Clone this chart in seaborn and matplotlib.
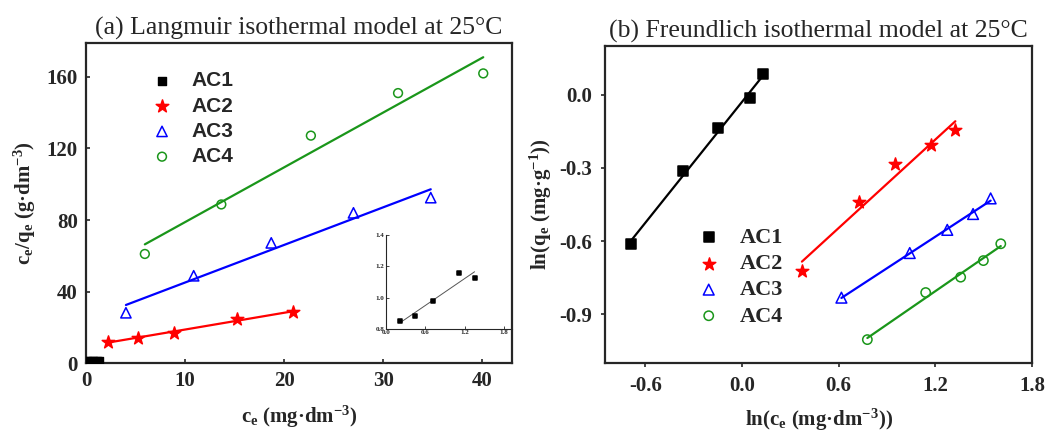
import numpy as np
import matplotlib
matplotlib.use("Agg")
import matplotlib.pyplot as plt
import seaborn as sns

# Données
series = ["AC1", "AC2", "AC3", "AC4"]
colors = ["black", "#ff0000", "#0000ff", "#1a961a"]
markers = ["s", "*", "^", "o"]

# (a) Langmuir : c_e et c_e/q_e
lang_ce = {
    "AC1": [0.22, 0.44, 0.72, 1.11, 1.35],
    "AC2": [2.25, 5.2, 8.9, 15.2, 20.9],
    "AC3": [4.03, 10.87, 18.7, 27.0, 34.8],
    "AC4": [5.94, 13.66, 22.7, 31.5, 40.1],
}
lang_ratio = {
    "AC1": [0.85, 0.882, 0.979, 1.158, 1.124],
    "AC2": [11.8, 14.1, 16.9, 24.4, 28.7],
    "AC3": [28.1, 48.8, 67.2, 84.0, 92.5],
    "AC4": [61.0, 88.7, 127.2, 151.0, 162.0],
}

# (b) Freundlich : ln(c_e) et ln(q_e)
fr_lnce = {
    "AC1": [-0.687, -0.366, -0.149, 0.048, 0.132],
    "AC2": [0.372, 0.726, 0.952, 1.175, 1.324],
    "AC3": [0.617, 1.041, 1.274, 1.434, 1.543],
    "AC4": [0.778, 1.140, 1.357, 1.498, 1.606],
}
fr_lnqe = {
    "AC1": [-0.612, -0.312, -0.136, -0.015, 0.084],
    "AC2": [-0.723, -0.438, -0.282, -0.208, -0.144],
    "AC3": [-0.832, -0.649, -0.554, -0.489, -0.425],
    "AC4": [-1.004, -0.811, -0.748, -0.680, -0.611],
}

sns.set_style("ticks")
plt.rcParams["font.family"] = ["Liberation Serif", "DejaVu Serif"]
plt.rcParams["mathtext.fontset"] = "custom"
plt.rcParams["mathtext.rm"] = "Liberation Serif:bold"
plt.rcParams["mathtext.it"] = "Liberation Serif:bold"
plt.rcParams["mathtext.bf"] = "Liberation Serif:bold"
plt.rcParams["axes.linewidth"] = 1.6

fig = plt.figure(figsize=(10.5, 4.32), dpi=100)
ax1 = fig.add_axes([0.0819, 0.1597, 0.4057, 0.7407])
ax2 = fig.add_axes([0.5762, 0.1597, 0.4067, 0.7338])
axin = fig.add_axes([0.3676, 0.2384, 0.12, 0.2176])


def draw(ax, xs, ys, name, color, marker, ms, lw=1.6, label=True):
    hollow = marker in ("^", "o")
    sns.regplot(x=np.array(xs), y=np.array(ys), ax=ax, ci=None, truncate=True,
                marker=marker, color=color,
                scatter_kws={"s": ms, "facecolors": "none" if hollow else color,
                             "edgecolors": color, "linewidths": 1.1, "alpha": 1,
                             "zorder": 3},
                line_kws={"lw": lw, "zorder": 2},
                label=name if label else None)


# ### (a) Langmuir ###
sizes = {"AC1": 40, "AC2": 90, "AC3": 55, "AC4": 40}
for name, c, m in zip(series, colors, markers):
    if name == "AC1":
        # AC1 écrasé près de zéro sur l'échelle principale
        ax1.scatter(lang_ce[name], lang_ratio[name], marker=m, s=40, color=c,
                    label=name, zorder=3)
    else:
        draw(ax1, lang_ce[name], lang_ratio[name], name, c, m, sizes[name])

ax1.set_xlim(0, 43)
ax1.set_ylim(0, 179)
ax1.set_xticks([0, 10, 20, 30, 40])
ax1.set_yticks([0, 40, 80, 120, 160])
ax1.set_title("(a) Langmuir isothermal model at 25°C", fontsize=18.5, pad=6)
ax1.set_xlabel(r"c$_e$ (mg·dm$^{-3}$)", fontsize=15, fontweight="bold", labelpad=9)
ax1.set_ylabel(r"c$_e$/q$_e$ (g·dm$^{-3}$)", fontsize=15, fontweight="bold", labelpad=6)
ax1.tick_params(direction="in", length=3, width=1.2, labelsize=15, pad=6)
for lab in ax1.get_xticklabels() + ax1.get_yticklabels():
    lab.set_fontweight("bold")
leg1 = ax1.legend(loc="upper left", bbox_to_anchor=(0.11, 0.97), frameon=False,
                  prop={"family": "Liberation Sans", "weight": "bold", "size": 15},
                  handlelength=1.0, handletextpad=0.9, labelspacing=0.3)

# encart AC1
draw(axin, lang_ce["AC1"], lang_ratio["AC1"], "AC1", "black", "s", 12, lw=0.7, label=False)
axin.lines[-1].set_color("#555555")
axin.set_xlim(0, 1.92)
axin.set_ylim(0.8, 1.4)
axin.set_xticks([0.0, 0.6, 1.2, 1.8])
axin.set_yticks([0.8, 1.0, 1.2, 1.4])
axin.set_xticklabels(["0.0", "0.6", "1.2", "1.8"])
axin.set_yticklabels(["0.8", "1.0", "1.2", "1.4"])
axin.tick_params(direction="in", length=2, width=0.6, labelsize=5, pad=1)
for lab in axin.get_xticklabels() + axin.get_yticklabels():
    lab.set_fontweight("bold")
axin.patch.set_alpha(0)
for s in ["top", "right"]:
    axin.spines[s].set_visible(False)
for s in ["left", "bottom"]:
    axin.spines[s].set_linewidth(0.8)

# ### (b) Freundlich ###
sizes2 = {"AC1": 55, "AC2": 90, "AC3": 60, "AC4": 45}
for name, c, m in zip(series, colors, markers):
    draw(ax2, fr_lnce[name], fr_lnqe[name], name, c, m, sizes2[name])

ax2.set_xlim(-0.85, 1.8)
ax2.set_ylim(-1.1, 0.2)
ax2.set_xticks([-0.6, 0.0, 0.6, 1.2, 1.8])
ax2.set_yticks([0.0, -0.3, -0.6, -0.9])
ax2.set_xticklabels(["-0.6", "0.0", "0.6", "1.2", "1.8"])
ax2.set_yticklabels(["0.0", "-0.3", "-0.6", "-0.9"])
ax2.set_title("(b) Freundlich isothermal model at 25°C", fontsize=18.5, pad=6)
ax2.set_xlabel(r"ln(c$_e$ (mg·dm$^{-3}$))", fontsize=15, fontweight="bold", labelpad=8)
ax2.set_ylabel(r"ln(q$_e$ (mg·g$^{-1}$))", fontsize=15, fontweight="bold", labelpad=4)
ax2.tick_params(direction="out", length=3, width=1.2, labelsize=15, pad=6)
for lab in ax2.get_xticklabels() + ax2.get_yticklabels():
    lab.set_fontweight("bold")
leg2 = ax2.legend(loc="upper left", bbox_to_anchor=(0.17, 0.49), frameon=False,
                  prop={"family": "Liberation Serif", "weight": "bold", "size": 16},
                  handlelength=1.0, handletextpad=0.9, labelspacing=0.25)

fig.savefig("out.png", dpi=100)
